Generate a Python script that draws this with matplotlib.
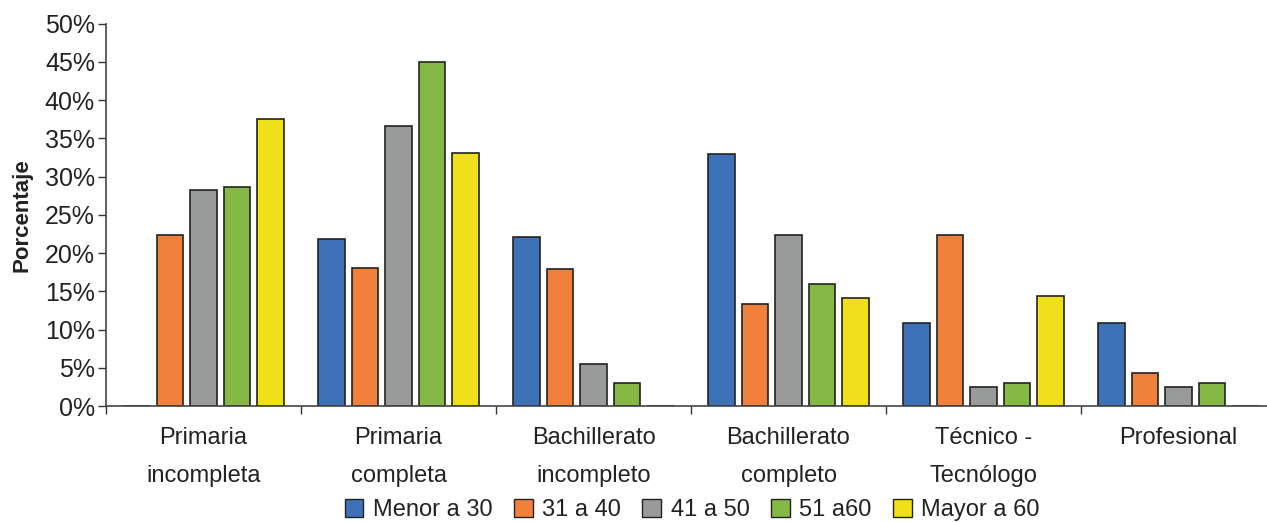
import numpy as np
import matplotlib.pyplot as plt
from matplotlib.patches import Patch
from matplotlib.ticker import FixedLocator, PercentFormatter

plt.rcParams['font.family'] = ['Liberation Sans', 'DejaVu Sans']

categorias = ["Primaria\nincompleta", "Primaria\ncompleta", "Bachillerato\nincompleto",
              "Bachillerato\ncompleto", "Técnico -\nTecnólogo", "Profesional"]
edades = ["Menor a 30", "31 a 40", "41 a 50", "51 a60", "Mayor a 60"]

menor_30 = [0, 21.8, 22.1, 33.0, 10.9, 10.9]
de_31_40 = [22.4, 18.0, 17.9, 13.4, 22.4, 4.3]
de_41_50 = [28.2, 36.6, 5.5, 22.4, 2.5, 2.5]
de_51_60 = [28.7, 45.0, 3.0, 15.9, 3.0, 3.0]
mayor_60 = [37.5, 33.1, 0, 14.1, 14.4, 0]

series = [menor_30, de_31_40, de_41_50, de_51_60, mayor_60]
colores = ["#3D72B8", "#F0803A", "#999B9B", "#85B844", "#EFE01A"]

W, H = 1267, 522
fig = plt.figure(figsize=(W / 100, H / 100), dpi=100)
ax = fig.add_axes([106 / W, 1 - 406 / H, 1170 / W, (406 - 23.7) / H])

x = np.arange(len(categorias))
paso = 0.172
ancho = 0.138
for i, (vals, col) in enumerate(zip(series, colores)):
    ax.bar(x + (i - 2) * paso, vals, width=ancho, color=col,
           edgecolor="#222222", linewidth=1.2, zorder=2)

ax.set_xlim(-0.5, len(categorias) - 0.5)
ax.set_ylim(0, 50)
ax.yaxis.set_major_locator(FixedLocator(np.arange(0, 51, 5)))
ax.yaxis.set_major_formatter(PercentFormatter(decimals=0))

# ticks de separación entre grupos, etiquetas centradas
ax.xaxis.set_major_locator(FixedLocator(np.arange(-0.5, len(categorias), 1)))
ax.set_xticklabels([])
ax.set_xticks(x, minor=True)
ax.set_xticklabels(categorias, minor=True, fontsize=17, color="#222222",
                   linespacing=1.95, va="top")
ax.tick_params(axis="x", which="minor", length=0, pad=15)
ax.tick_params(axis="x", which="major", length=6, width=1, color="#333333", direction="out")
ax.tick_params(axis="y", length=6, width=1, color="#333333", labelsize=18,
               labelcolor="#222222", pad=2)

for s in ["top", "right"]:
    ax.spines[s].set_visible(False)
for s in ["left", "bottom"]:
    ax.spines[s].set_color("#444444")
    ax.spines[s].set_linewidth(1.2)

fig.text(22 / W, 1 - 215 / H, "Porcentaje", rotation=90, ha="center", va="center",
         fontsize=16, fontweight="bold", color="#222222")

handles = [Patch(facecolor=c, edgecolor="#222222", linewidth=1.0) for c in colores]
fig.legend(handles, edades, loc="center", bbox_to_anchor=(692 / W, 1 - 510 / H),
           ncol=5, frameon=False, fontsize=17, handlelength=0.8, handleheight=0.8,
           handletextpad=0.4, columnspacing=0.9, borderpad=0, labelcolor="#222222")

fig.savefig("out.png", dpi=100)
